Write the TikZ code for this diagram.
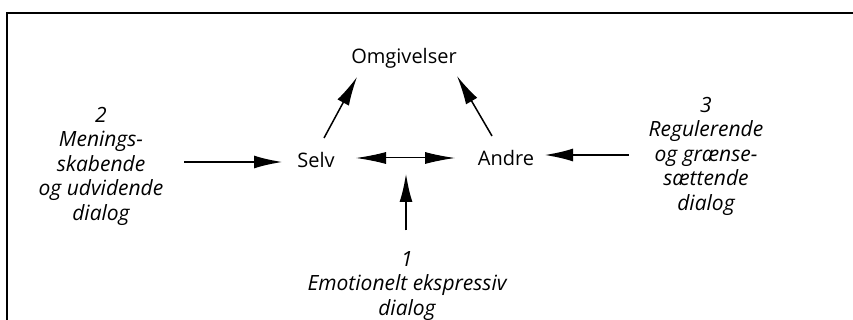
\documentclass[tikz,border=0pt]{standalone}
\usepackage{fontspec}
\setmainfont{Open Sans}
\usetikzlibrary{arrows.meta}
\begin{document}
\begin{tikzpicture}[x=1pt,y=-1pt,
  word/.style={inner sep=0pt,outer sep=0pt,font=\fontsize{20}{24.5}\selectfont},
  lab/.style={inner sep=0pt,outer sep=0pt,align=center,font=\fontsize{21}{24.5}\selectfont\itshape},
  arr/.style={-{Latex[length=29pt,width=13pt]}},
  darr/.style={{Latex[length=30pt,width=12pt]}-{Latex[length=30pt,width=12pt]}},
  frame/.style={line width=2pt}]
\useasboundingbox (0,0) rectangle (853,320);
\clip (0,0) rectangle (853,320);
\fill[white] (0,0) rectangle (853,320);
\draw[frame] (7,330) -- (7,13) -- (860,13);
\node[word,anchor=base] (omg) at (404,64) {Omgivelser};
\node[word,anchor=base] (selv) at (316,168) {Selv};
\node[word,anchor=base] (andre) at (506,166) {Andre};
\node[lab] (lab2) at (101,166) {2\\Menings-\\skabende\\og udvidende\\dialog};
\node[lab] (lab3) at (706,156) {3\\Regulerende\\og grænse-\\sættende\\dialog};
\node[lab] (lab1) at (407,286) {1\\Emotionelt ekspressiv\\dialog};
\coordinate (mid) at (406,158);
\draw[arr,line width=1.5pt] ([xshift=8pt,yshift=30pt]selv.base) -- ([xshift=-47pt,yshift=-13pt]omg.base);
\draw[arr,line width=1.5pt] ([xshift=-14pt,yshift=30pt]andre.base) -- ([xshift=53pt,yshift=-12pt]omg.base);
\draw[darr,line width=1pt] ([xshift=40pt,yshift=10pt]selv.base) -- ([xshift=-51pt,yshift=8pt]andre.base);
\draw[arr,line width=2.5pt] ([xshift=21pt,yshift=4pt]lab2.east) -- ([xshift=-33pt,yshift=6pt]selv.base);
\draw[arr,line width=2.5pt] ([xshift=-20pt,yshift=1pt]lab3.west) -- ([xshift=38pt,yshift=11pt]andre.base);
\draw[arr,line width=2.5pt] ([xshift=-1pt,yshift=21pt]lab1.north) -- ([yshift=-15pt]mid);
\end{tikzpicture}
\end{document}
